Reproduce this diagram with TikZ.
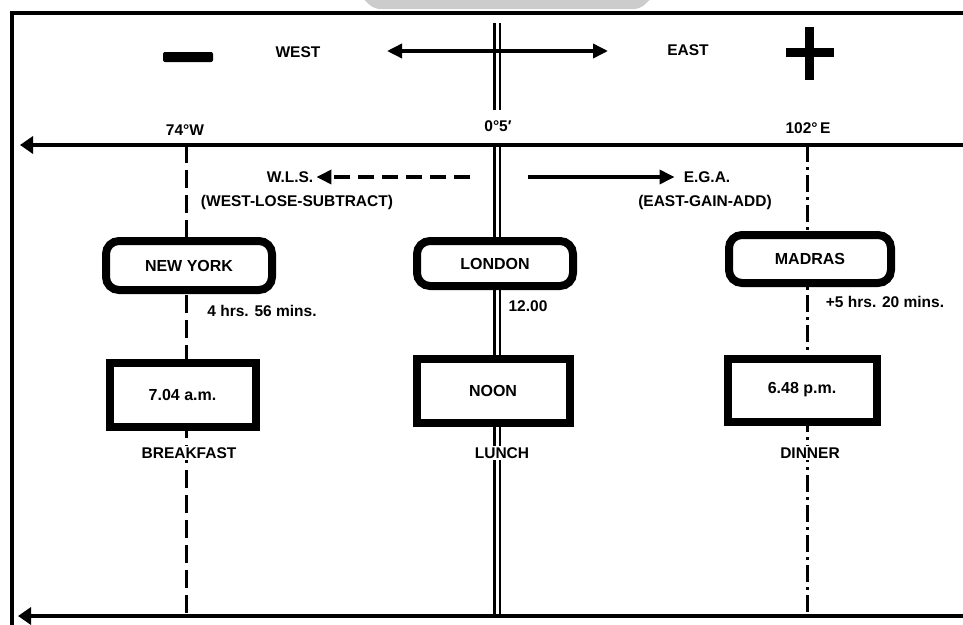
\documentclass[tikz,border=0pt]{standalone}
\usepackage{fontspec}
\setmainfont{Liberation Sans}
\usetikzlibrary{arrows.meta,backgrounds}
\tikzset{hd/.tip={Triangle[length=15pt,width=14pt]},
         ax/.tip={Triangle[length=13pt,width=17pt]}}
\begin{document}
\begin{tikzpicture}[x=1pt,y=-1pt,
  lbl/.style={font=\fontsize{15.5}{19}\selectfont\bfseries, inner sep=1pt},
  wlbl/.style={lbl, fill=white, inner sep=2pt},
  city/.style={draw, line width=8pt, rounded corners=13pt, fill=white,
    font=\fontsize{16}{19}\selectfont\bfseries, inner sep=0pt},
  timebox/.style={draw, line width=8pt, fill=white,
    font=\fontsize{16}{19}\selectfont\bfseries, inner sep=0pt},
  wline/.style={line width=3pt, dash pattern=on 18pt off 7pt},
  eline/.style={line width=3pt, dash pattern=on 17pt off 5pt on 3pt off 5pt},
  gline/.style={line width=2.5pt, double=white, double distance=3pt},
  axisline/.style={line width=4pt, -ax},
]
\useasboundingbox (0,0) rectangle (963,624);

% faint watermark at the top
\fill[gray!40, rounded corners=6pt] (356,-8) -- (374,9) -- (640,9) -- (658,-8) -- cycle;

% coordinates
\coordinate (frTR) at (963,13);
\coordinate (frTL) at (12,13);
\coordinate (frBL) at (12,630);
\coordinate (axR) at (963,145);
\coordinate (axL) at (20,145);
\coordinate (bxR) at (963,616);
\coordinate (bxL) at (18,616);
\coordinate (nyT) at (186,145);
\coordinate (nyB) at (186,616);
\coordinate (ldT1) at (497,23);
\coordinate (ldT2) at (497,110);
\coordinate (ldT) at (497,145);
\coordinate (ldB) at (497,616);
\coordinate (mdT) at (807,145);
\coordinate (mdB) at (807,616);
\coordinate (westtip) at (387,51);
\coordinate (easttip) at (608,51);
\coordinate (wlsstart) at (470,177);
\coordinate (egastart) at (528,177);

% nodes
\node[city, minimum width=166pt, minimum height=49pt] (ny) at (189,265.5) {NEW YORK};
\node[city, minimum width=156pt, minimum height=45pt] (ld) at (495,263.5) {LONDON};
\node[city, minimum width=162pt, minimum height=48pt] (md) at (810,259) {MADRAS};

\node[timebox, minimum width=146pt, minimum height=64pt] (nyt) at (182.5,394.5) {7.04 a.m.};
\node[timebox, minimum width=153pt, minimum height=64pt] (ldt) at (493,390.5) {NOON};
\node[timebox, minimum width=149pt, minimum height=63pt] (mdt) at (802,390) {6.48 p.m.};

\node[wlbl] (bf) at (189,453) {BREAKFAST};
\node[wlbl] (lu) at (502,453) {LUNCH};
\node[wlbl] (di) at (810,453) {DINNER};

\node[lbl] (west) at (298,52) {WEST};
\node[lbl] (east) at (688,50) {EAST};
\node[lbl] (lw) at (185,130) {74°W};
\node[lbl] (l0) at (498,126) {0°5′};
\node[lbl] (le) at (808,128) {102°\,E};

\node[lbl, inner sep=3pt] (wls) at (290,177) {W.L.S.};
\node[lbl] (wlsx) at (297,202) {(WEST-LOSE-SUBTRACT)};
\node[lbl, inner sep=9pt] (ega) at (707,177) {E.G.A.};
\node[lbl] (egax) at (705,202) {(EAST-GAIN-ADD)};

\node[lbl] (nydiff) at (262,311) {4 hrs. 56 mins.};
\node[lbl] (lddiff) at (528,306) {12.00};
\node[lbl] (mddiff) at (885,302) {+5 hrs. 20 mins.};

% minus and plus signs
\fill[rounded corners=2pt] (163,52) rectangle (213,62);
\fill (786,48) rectangle (834,57);
\fill (805,27) rectangle (814,80);

\begin{scope}[on background layer]
  % frame
  \draw[line width=4pt] (frTR) -- (frTL) -- (frBL);
  % meridian lines
  \draw[wline] (nyT) -- (nyB);
  \draw[eline] (mdT) -- (mdB);
  \draw[gline] (ldT1) -- (ldT2);
  \draw[gline] (ldT) -- (ldB);
  % axes
  \draw[axisline] (axR) -- (axL);
  \draw[axisline] (bxR) -- (bxL);
  % west-east arrow
  \draw[line width=3.5pt, hd-hd] (westtip) -- (easttip);
\end{scope}

% direction arrows
\draw[line width=3.5pt, dash pattern=on 16pt off 8pt, -hd] (wlsstart) -- (wls.east);
\draw[line width=3.5pt, -hd] (egastart) -- (ega.west);
\end{tikzpicture}
\end{document}
